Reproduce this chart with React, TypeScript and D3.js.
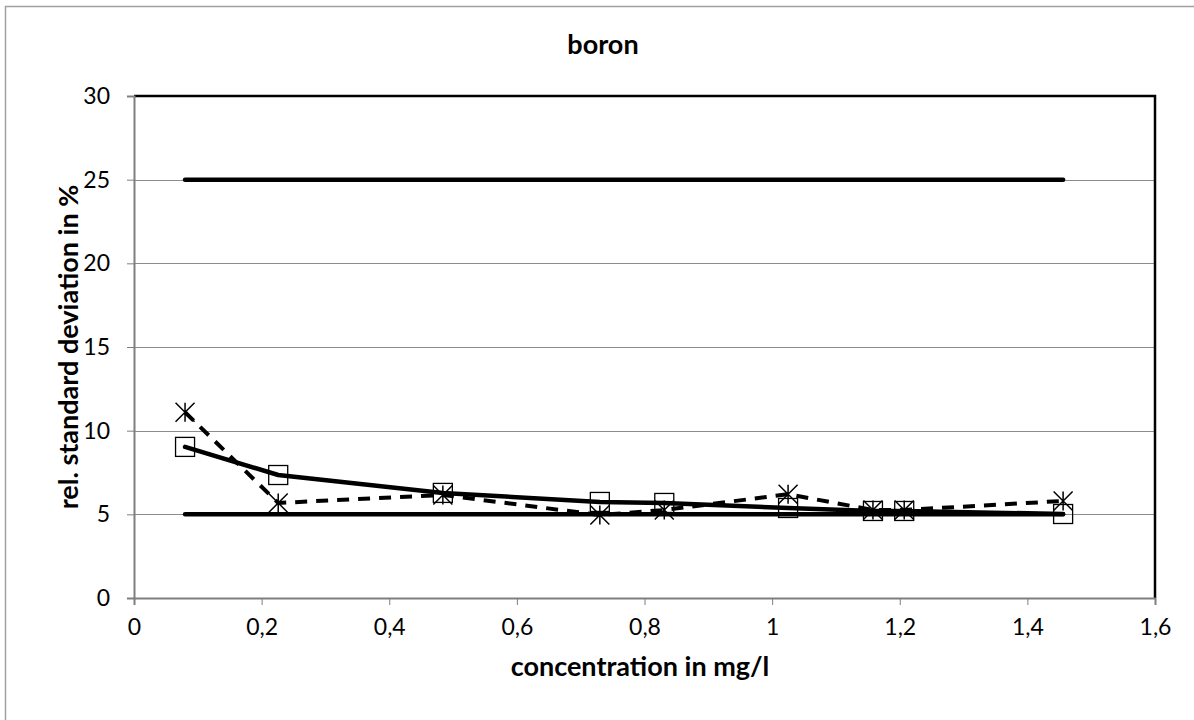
import React, { useEffect, useRef } from 'react';
import * as d3 from 'd3';

// concentration in mg/l
const concentrations = [0.08, 0.226, 0.484, 0.73, 0.831, 1.025, 1.158, 1.207, 1.456];
// rel. standard deviation, square markers (solid line)
const rsdSquare = [9.03, 7.35, 6.28, 5.74, 5.68, 5.38, 5.2, 5.2, 5.02];
// rel. standard deviation, star markers (dashed line)
const rsdStar = [11.1, 5.68, 6.16, 4.96, 5.26, 6.2, 5.26, 5.26, 5.8];
// limits
const limitUpper = [25, 25];
const limitLower = [5, 5];
const limitX = [0.08, 1.456];

const xTicks = [0, 0.2, 0.4, 0.6, 0.8, 1, 1.2, 1.4, 1.6];
const yTicks = [0, 5, 10, 15, 20, 25, 30];

const WIDTH = 1194;
const HEIGHT = 720;
const FONT = 'Lato, "Open Sans", sans-serif';

const App: React.FC = () => {
  const svgRef = useRef<SVGSVGElement>(null);

  useEffect(() => {
    const svg = d3.select(svgRef.current);
    svg.selectAll('*').remove();

    const left = 134, right = 1155, top = 96, bottom = 598;

    const x = d3.scaleLinear().domain([0, 1.6]).range([left, right]);
    const y = d3.scaleLinear().domain([0, 30]).range([bottom, top]);

    // outer chart border (clipped by the window on right / bottom)
    svg.append('rect')
      .attr('x', 5.5).attr('y', 6.5)
      .attr('width', 1300).attr('height', 800)
      .attr('fill', 'white')
      .attr('stroke', '#a0a0a0')
      .attr('stroke-width', 1.5);

    // grid lines
    svg.append('g')
      .selectAll('line')
      .data(yTicks.filter(t => t > 0 && t < 30))
      .enter()
      .append('line')
      .attr('x1', left).attr('x2', right)
      .attr('y1', d => Math.round(y(d)) + 0.5)
      .attr('y2', d => Math.round(y(d)) + 0.5)
      .attr('stroke', '#8c8c8c')
      .attr('stroke-width', 1);

    // plot area border top/right
    svg.append('path')
      .attr('d', `M${left},${top} H${right} V${bottom}`)
      .attr('fill', 'none')
      .attr('stroke', 'black')
      .attr('stroke-width', 2.5);

    // y axis
    svg.append('g')
      .attr('transform', `translate(${left},0)`)
      .call(d3.axisLeft(y).tickValues(yTicks).tickSize(7).tickPadding(17).tickFormat(d3.format('d')))
      .call(g => g.select('.domain').attr('stroke', '#7f7f7f').attr('stroke-width', 2))
      .call(g => g.selectAll('.tick line').attr('stroke', '#7f7f7f'))
      .call(g => g.selectAll('.tick text')
        .attr('fill', 'black')
        .attr('font-family', FONT)
        .attr('font-size', 23));

    // x axis
    svg.append('g')
      .attr('transform', `translate(0,${bottom})`)
      .call(d3.axisBottom(x).tickValues(xTicks).tickSize(7).tickPadding(14)
        .tickFormat(d => String(d).replace('.', ',')))
      .call(g => g.select('.domain').attr('stroke', '#7f7f7f').attr('stroke-width', 2))
      .call(g => g.selectAll('.tick line').attr('stroke', '#7f7f7f'))
      .call(g => g.selectAll('.tick text')
        .attr('fill', 'black')
        .attr('font-family', FONT)
        .attr('font-size', 23));

    // limit lines
    const straight = d3.line<number>()
      .x((_, i) => x(limitX[i]))
      .y(d => y(d));

    [limitUpper, limitLower].forEach(lim => {
      svg.append('path')
        .datum(lim)
        .attr('fill', 'none')
        .attr('stroke', 'black')
        .attr('stroke-width', 4.5)
        .attr('stroke-linecap', 'round')
        .attr('d', straight);
    });

    const seriesLine = d3.line<number>()
      .x((_, i) => x(concentrations[i]))
      .y(d => y(d));

    // square series
    svg.append('path')
      .datum(rsdSquare)
      .attr('fill', 'none')
      .attr('stroke', 'black')
      .attr('stroke-width', 4.5)
      .attr('stroke-linecap', 'round')
      .attr('stroke-linejoin', 'round')
      .attr('d', seriesLine);

    // star series
    svg.append('path')
      .datum(rsdStar)
      .attr('fill', 'none')
      .attr('stroke', 'black')
      .attr('stroke-width', 4)
      .attr('stroke-dasharray', '12 9')
      .attr('d', seriesLine);

    // square markers
    const s = 19;
    svg.append('g')
      .selectAll('rect')
      .data(rsdSquare)
      .enter()
      .append('rect')
      .attr('x', (_, i) => x(concentrations[i]) - s / 2)
      .attr('y', d => y(d) - s / 2)
      .attr('width', s)
      .attr('height', s)
      .attr('fill', 'none')
      .attr('stroke', 'black')
      .attr('stroke-width', 1.3);

    // star markers
    const h = 9.5;
    svg.append('g')
      .selectAll('path')
      .data(rsdStar)
      .enter()
      .append('path')
      .attr('d', (d, i) => {
        const cx = x(concentrations[i]);
        const cy = y(d);
        return `M${cx - h},${cy - h}L${cx + h},${cy + h}M${cx - h},${cy + h}L${cx + h},${cy - h}M${cx},${cy - h}L${cx},${cy + h}`;
      })
      .attr('fill', 'none')
      .attr('stroke', 'black')
      .attr('stroke-width', 1.5);

    // title
    svg.append('text')
      .attr('x', 603)
      .attr('y', 54)
      .attr('text-anchor', 'middle')
      .attr('font-family', FONT)
      .attr('font-size', 27)
      .attr('font-weight', 'bold')
      .text('boron');

    // x label
    svg.append('text')
      .attr('x', 640)
      .attr('y', 676)
      .attr('text-anchor', 'middle')
      .attr('font-family', FONT)
      .attr('font-size', 27)
      .attr('font-weight', 'bold')
      .text('concentration in mg/l');

    // y label
    svg.append('text')
      .attr('transform', `translate(78,${(top + bottom) / 2}) rotate(-90)`)
      .attr('text-anchor', 'middle')
      .attr('font-family', FONT)
      .attr('font-size', 27)
      .attr('font-weight', 'bold')
      .text('rel. standard deviation in %');
  }, []);

  return (
    <div style={{ position: 'absolute', left: 0, top: 0 }}>
      <svg ref={svgRef} width={WIDTH} height={HEIGHT} style={{ display: 'block' }}></svg>
    </div>
  );
};

export default App;
